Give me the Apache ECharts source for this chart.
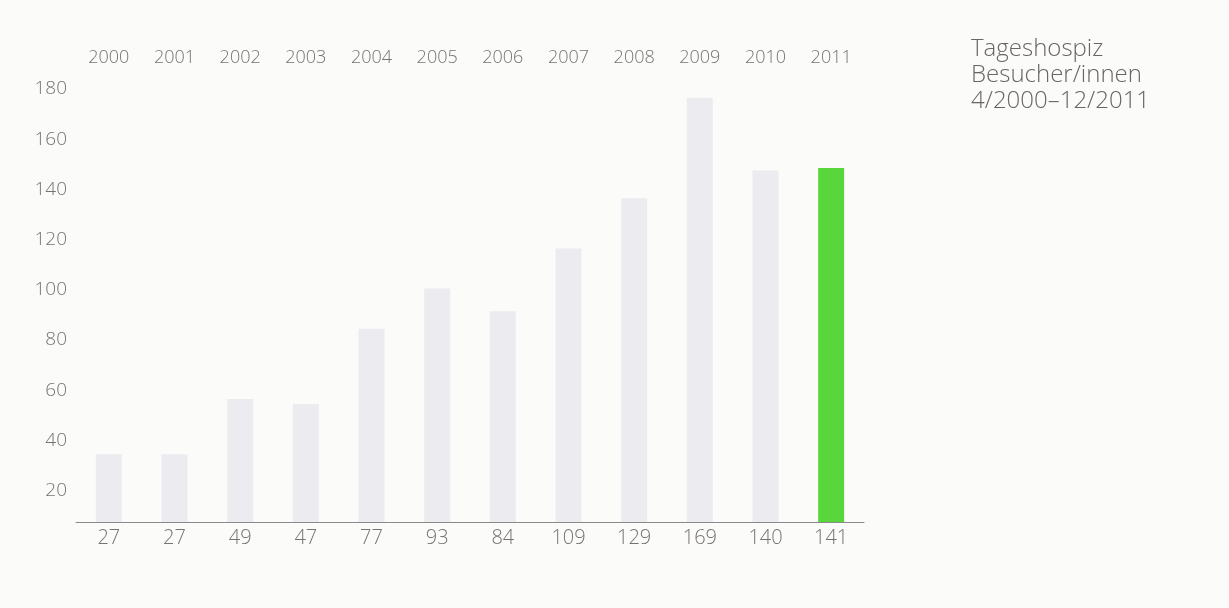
<!DOCTYPE html>
<html><head><meta charset="utf-8">
<script src="https://cdn.jsdelivr.net/npm/echarts@6/dist/echarts.min.js"></script>
<style>html,body{margin:0;padding:0;background:#fbfbfa}#c{width:1229px;height:608px}</style>
</head><body><div id="c"></div>
<script>
const years = ['2000','2001','2002','2003','2004','2005','2006','2007','2008','2009','2010','2011'];
const visitors = [27,27,49,47,77,93,84,109,129,169,140,141];
const yTicks = [20,40,60,80,100,120,140,160,180];
const titleLines = ['Tageshospiz','Besucher/innen','4/2000\u201312/2011'];

const FONT = "'Open Sans','Liberation Sans',sans-serif";
const TXT = '#777373';
const chart = echarts.init(document.getElementById('c'));
chart.setOption({
  backgroundColor: '#fbfbfa',
  animation: false,
  title: {
    text: titleLines.join('\n'),
    left: 966, top: 31,
    textStyle: {fontFamily: FONT, fontSize: 24, fontWeight: 300, color: '#6a6464', lineHeight: 26}
  },
  grid: {left: 76, right: 365, top: 89, bottom: 86},
  xAxis: [
    {type: 'category', data: visitors.map(String), position: 'bottom',
     axisLine: {show: true, lineStyle: {color: '#8a8a8a', width: 1}},
     axisTick: {show: false},
     axisLabel: {fontFamily: FONT, fontSize: 20, fontWeight: 300, color: TXT, margin: 6}},
    {type: 'category', data: years, position: 'top',
     axisLine: {show: false}, axisTick: {show: false},
     axisLabel: {fontFamily: FONT, fontSize: 18, fontWeight: 300, color: TXT, margin: 22}}
  ],
  yAxis: [
    {type: 'value', min: 7.5, max: 180, position: 'left',
     axisLine: {show: false}, axisTick: {show: false}, splitLine: {show: false},
     axisLabel: {customValues: yTicks, fontFamily: FONT, fontSize: 19, fontWeight: 300, color: TXT, margin: 9,
                 showMinLabel: true, showMaxLabel: true}},
    {type: 'value', min: 0, max: 172.5, show: false}
  ],
  series: [{
    type: 'bar', xAxisIndex: 0, yAxisIndex: 1,
    data: visitors.map((v, i) => ({value: v, itemStyle: {color: i === visitors.length - 1 ? '#58d63c' : '#ececf0'}})),
    barWidth: 26
  }]
});
</script></body></html>
